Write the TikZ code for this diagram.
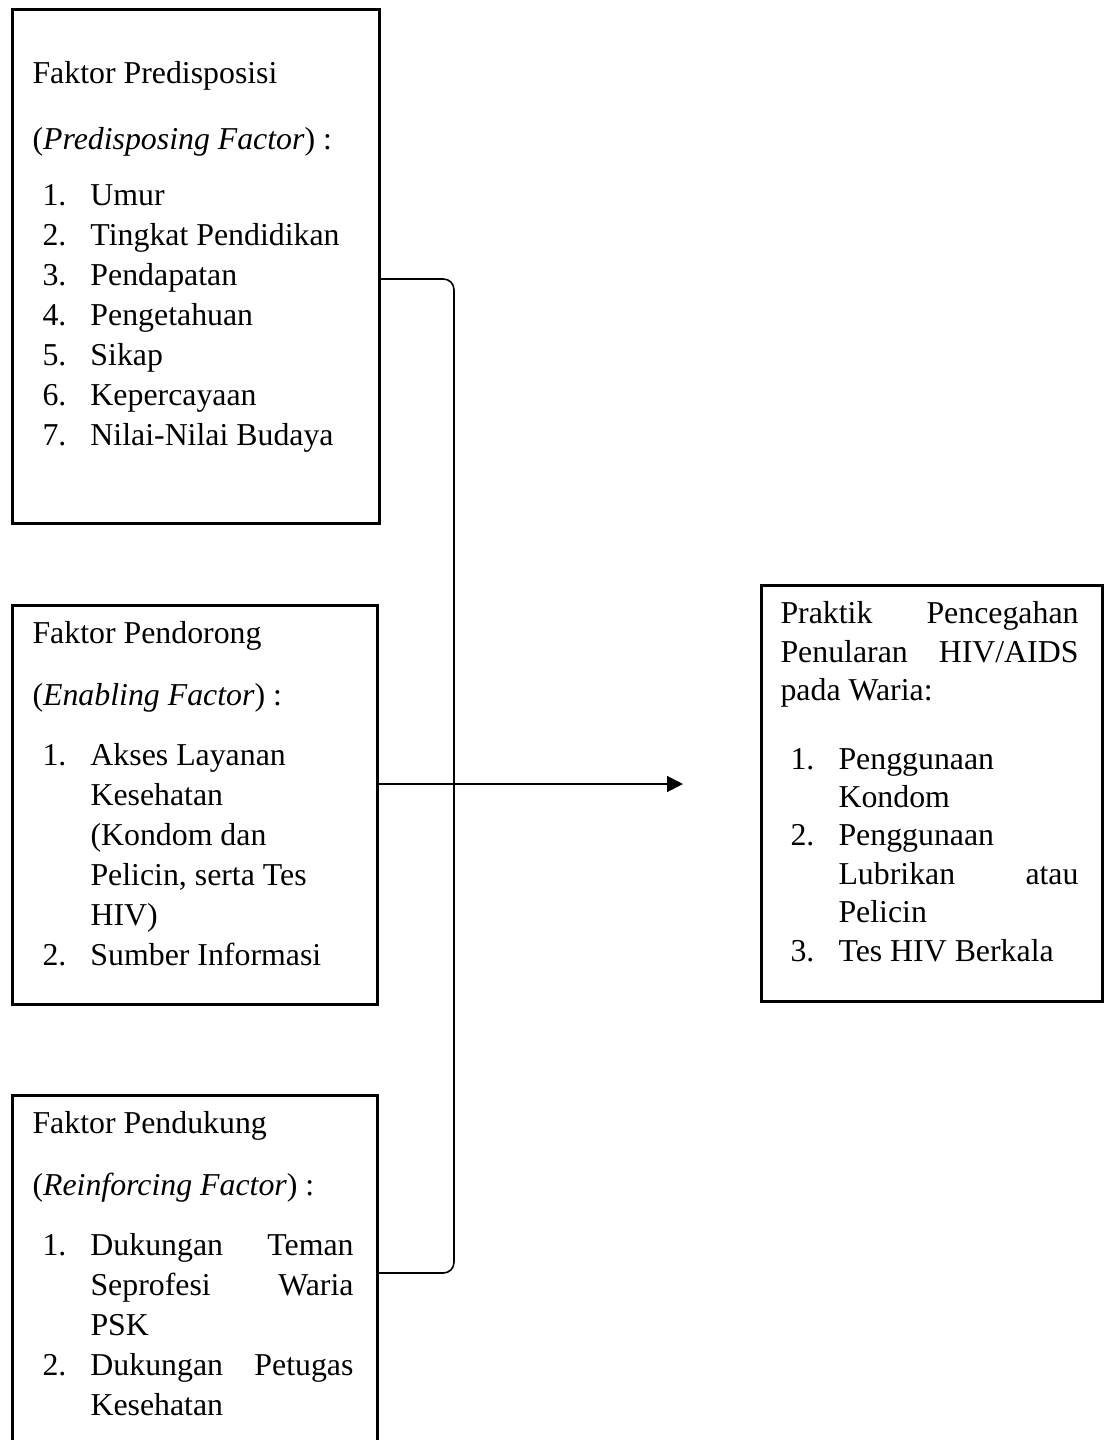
\documentclass[tikz,border=0pt]{standalone}
\usepackage{fontspec}
\setmainfont{Liberation Serif}
\usetikzlibrary{arrows.meta}
\newlength{\px}
\setlength{\px}{0.377pt}
\newcommand{\itm}[1]{\hspace*{10\px}\makebox[48\px][l]{#1}}
\newcommand{\cnt}{\hspace*{58\px}}
\newcommand{\jst}[3]{\makebox[#1\px][s]{#2\hfill #3}}
\tikzset{
  box/.style  ={draw=black, line width=1pt, anchor=north west, inner sep=0pt},
  txt/.style  ={anchor=north west, align=left, inner sep=0pt,
                font=\fontsize{12}{15.08}\selectfont},
  flow/.style ={-{Triangle[length=6pt,width=6pt]}, line width=0.6pt},
  brk/.style  ={line width=0.6pt, rounded corners=4pt},
}

\begin{document}
\begin{tikzpicture}[x=0.377pt, y=-0.377pt]
  \useasboundingbox (0,0) rectangle (1104,1440);
  \clip (0,0) rectangle (1104,1440);
  % factor boxes
  \node[box, minimum width=367\px, minimum height=514\px] (pred) at (11,8) {};
  \node[box, minimum width=365\px, minimum height=399\px] (enab) at (11,604) {};
  \node[box, minimum width=365\px, minimum height=380\px] (reinf) at (11,1094) {};
  \node[box, minimum width=341\px, minimum height=416\px] (prak) at (760,584) {};

  % box texts
  \node[txt] (predtxt) at (32,61) {Faktor Predisposisi\\[26\px]
    (\textit{Predisposing Factor}) :\\[16\px]
    \itm{1.}Umur\\
    \itm{2.}Tingkat Pendidikan\\
    \itm{3.}Pendapatan\\
    \itm{4.}Pengetahuan\\
    \itm{5.}Sikap\\
    \itm{6.}Kepercayaan\\
    \itm{7.}Nilai-Nilai Budaya};
  \node[txt] (enabtxt) at (32,621) {Faktor Pendorong\\[22\px]
    (\textit{Enabling Factor}) :\\[20\px]
    \itm{1.}Akses Layanan\\
    \cnt Kesehatan\\
    \cnt (Kondom dan\\
    \cnt Pelicin, serta Tes\\
    \cnt HIV)\\
    \itm{2.}Sumber Informasi};
  \node[txt] (reinftxt) at (32,1111) {Faktor Pendukung\\[22\px]
    (\textit{Reinforcing Factor}) :\\[20\px]
    \itm{1.}\jst{263}{Dukungan}{Teman}\\
    \cnt\jst{263}{Seprofesi}{Waria}\\
    \cnt PSK\\
    \itm{2.}\jst{263}{Dukungan}{Petugas}\\
    \cnt Kesehatan};
  \node[txt, font=\fontsize{12}{14.5}\selectfont] (praktxt) at (780,601) {\jst{298}{Praktik}{Pencegahan}\\
    \jst{298}{Penularan}{HIV/AIDS}\\
    pada Waria:\\[30\px]
    \itm{1.}Penggunaan\\
    \cnt Kondom\\
    \itm{2.}Penggunaan\\
    \cnt\jst{240}{Lubrikan}{atau}\\
    \cnt Pelicin\\
    \itm{3.}Tes HIV Berkala};

  % bracket and arrow
  \coordinate (jtop) at (454,279);
  \coordinate (jbot) at (454,1273);
  \coordinate (tip) at (683,784);
  \draw[brk] (pred.east |- jtop) -- (jtop) -- (jbot) -- (reinf.east |- jbot);
  \draw[flow] (enab.east |- tip) -- (tip);
\end{tikzpicture}
\end{document}
